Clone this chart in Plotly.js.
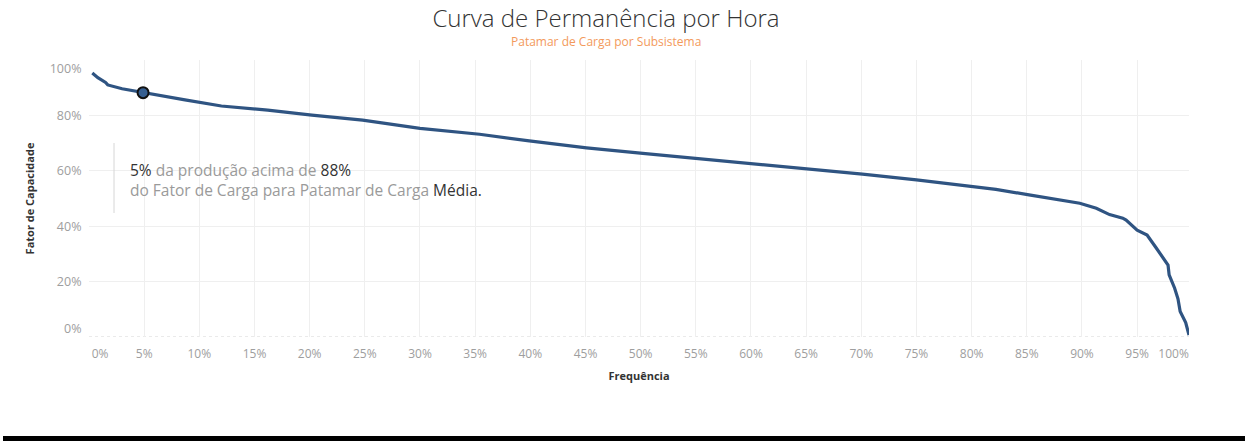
<!DOCTYPE html>
<html>
<head>
<meta charset="utf-8">
<script src="https://cdn.plot.ly/plotly-3.0.1.min.js"></script>
<style>
  html, body { margin:0; padding:0; background:#fff; }
  #chart { width:1245px; height:441px; }
  #bar { position:absolute; left:3px; top:436px; width:1242px; height:5px; background:#000; }
</style>
</head>
<body>
<div id="chart"></div>
<div id="bar"></div>
<script>
// Frequência (% of hours) and Fator de Capacidade (%)
const freq  = [0.3, 0.8, 1.5, 1.7, 3.0, 4.9, 8.7, 12.0, 16.2, 20.2, 24.8, 30.0, 35.4, 39.9, 45.1, 50.2, 55.0, 60.2, 65.0, 70.1, 75.0, 80.1, 82.2, 85.2, 89.8, 91.3, 92.5, 93.7, 94.0, 95.0, 95.9, 96.7, 97.3, 97.8, 97.9, 98.4, 98.7, 98.9, 99.4, 99.7];
const fator = [95.3, 93.6, 91.9, 91.0, 89.6, 88.2, 85.6, 83.4, 81.9, 80.1, 78.3, 75.3, 73.2, 70.8, 68.3, 66.3, 64.5, 62.3, 60.6, 58.8, 56.7, 54.3, 53.3, 51.3, 48.3, 46.5, 44.2, 42.9, 42.2, 38.6, 36.8, 32.3, 28.6, 26.0, 22.4, 17.6, 13.8, 9.2, 5.2, 0.7];

// Highlighted point
const pointX = [4.9];
const pointY = [88.2];

// Axis ticks
const xGridVals = [0,5,10,15,20,25,30,35,40,45,50,55,60,65,70,75,80,85,90,95,100];
const xLabelVals = [1.0,5,10,15,20,25,30,35,40,45,50,55,60,65,70,75,80,85,90,95,98.3];
const xLabelText = ['0%','5%','10%','15%','20%','25%','30%','35%','40%','45%','50%','55%','60%','65%','70%','75%','80%','85%','90%','95%','100%'];
const yGridVals = [0,20,40,60,80,100];
const yLabelVals = [3.2,20,40,60,80,96.8];
const yLabelText = ['0%','20%','40%','60%','80%','100%'];

const xRange = [0, 99.7];
const yRange = [0, 100];

const lineColor = '#2f5482';
const gridColor = '#efefef';
const tickColor = '#9e9e9e';
const font = 'Open Sans, Noto Sans, sans-serif';

const traces = [
  {
    x: freq, y: fator, type: 'scatter', mode: 'lines',
    line: {color: lineColor, width: 3.2, shape: 'linear'},
    hoverinfo: 'skip', showlegend: false,
    xaxis: 'x', yaxis: 'y'
  },
  {
    x: pointX, y: pointY, type: 'scatter', mode: 'markers',
    marker: {size: 11, color: '#365f91', line: {color: '#111', width: 2}},
    hoverinfo: 'skip', showlegend: false,
    xaxis: 'x2', yaxis: 'y2'
  }
];

const layout = {
  width: 1245, height: 441,
  margin: {l: 89, r: 56, t: 60, b: 104},
  paper_bgcolor: '#fff', plot_bgcolor: '#fff',
  font: {family: font, color: '#333'},
  showlegend: false,
  title: {
    text: 'Curva de Permanência por Hora',
    font: {family: font, size: 24, color: '#333', weight: 300},
    xref: 'container', x: 606/1245, xanchor: 'center',
    yref: 'container', y: 1 - 19/441, yanchor: 'middle'
  },
  xaxis: {
    range: xRange, tickmode: 'array', tickvals: xGridVals,
    showticklabels: false, showgrid: true, gridcolor: gridColor, gridwidth: 1,
    zeroline: false, showline: false, ticks: '', fixedrange: true
  },
  yaxis: {
    range: yRange, tickmode: 'array', tickvals: yGridVals,
    showticklabels: false, showgrid: true, gridcolor: gridColor, gridwidth: 1,
    zeroline: false, showline: false, ticks: '', fixedrange: true
  },
  xaxis2: {
    overlaying: 'x', anchor: 'y2', side: 'bottom',
    range: xRange, tickmode: 'array', tickvals: xLabelVals, ticktext: xLabelText,
    showgrid: false, zeroline: false, showline: false,
    ticks: 'outside', ticklen: 6, tickcolor: 'rgba(0,0,0,0)',
    tickfont: {family: font, size: 12, color: tickColor},
    title: {text: '<b>Frequência</b>', font: {family: font, size: 11, color: '#333'}, standoff: 10},
    fixedrange: true
  },
  yaxis2: {
    overlaying: 'y', anchor: 'x2', side: 'left',
    range: yRange, tickmode: 'array', tickvals: yLabelVals, ticktext: yLabelText,
    showgrid: false, zeroline: false, showline: false,
    ticks: 'outside', ticklen: 4, tickcolor: 'rgba(0,0,0,0)',
    tickfont: {family: font, size: 12.5, color: tickColor},
    title: {text: '<b>Fator de Capacidade</b>', font: {family: font, size: 11, color: '#333'}, standoff: 12},
    fixedrange: true
  },
  shapes: [
    {type: 'rect', xref: 'paper', yref: 'paper',
     x0: (114-89)/1100, x1: (497-89)/1100, y0: (337-213)/277, y1: (337-143)/277,
     fillcolor: '#fff', line: {width: 0}, layer: 'between'},
    {type: 'line', xref: 'paper', yref: 'paper',
     x0: (114-89)/1100, x1: (114-89)/1100, y0: (337-213)/277, y1: (337-143)/277,
     line: {color: '#d6d6d6', width: 1}, layer: 'above'},
    {type: 'line', xref: 'paper', yref: 'y',
     x0: 0, x1: 1, y0: 0, y1: 0,
     line: {color: '#d4d4d4', width: 1, dash: 'dot'}, layer: 'below'}
  ],
  annotations: [
    {
      text: 'Patamar de Carga por Subsistema',
      xref: 'paper', yref: 'paper',
      x: (606-89)/1100, y: (337-42)/277, xanchor: 'center', yanchor: 'middle',
      showarrow: false, font: {family: font, size: 12, color: '#f39a5c'}
    },
    {
      text: '<span style="color:#333">5%</span> da produção acima de <span style="color:#333">88%</span><br>do Fator de Carga para Patamar de Carga <span style="color:#333">Média.</span>',
      xref: 'paper', yref: 'paper',
      x: (128-89)/1100, y: (337-180)/277, xanchor: 'left', yanchor: 'middle',
      align: 'left', showarrow: false,
      font: {family: font, size: 15.5, color: '#9a9a9a'}
    }
  ]
};

Plotly.newPlot('chart', traces, layout, {displayModeBar: false, staticPlot: true});
</script>
</body>
</html>
